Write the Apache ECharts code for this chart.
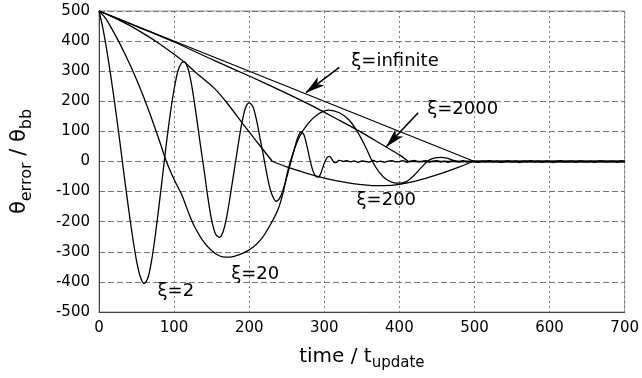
<!DOCTYPE html>
<html>
<head>
<meta charset="utf-8">
<script src="https://cdn.jsdelivr.net/npm/echarts@6/dist/echarts.min.js"></script>
<style>
  html, body { margin: 0; padding: 0; background: #fff; }
  #chart { width: 642px; height: 378px; }
</style>
</head>
<body>
<div id="chart"></div>
<script>
// Pointing error (θerror / θbb) versus time for several ξ settings.

const xiInfinite = [[0, 500], [500, 0], [700, 0]];

const xi2000 = [
  [0, 500], [50, 449], [100, 397], [154, 335], [200, 284], [240, 238],
  [280, 190], [320, 137], [350, 96], [381, 50], [400, 22], [412, 0]
];
const xi2000Tail = [[412, 0], [700, 0]];

const xi200Descent = [
  [0, 500], [20, 478], [40, 453], [60, 424], [80, 392], [100, 356],
  [113, 331], [130, 293], [154, 242], [170, 196], [191, 127], [210, 66], [231, 0]
];
const xi200Settle = [
  [231, 0], [250, -18], [270, -34], [300, -55], [330, -70], [360, -79],
  [380, -80], [400, -76], [420, -66], [440, -52], [460, -36], [480, -18], [498, 0]
];
const xi200Tail = [[498, 0], [700, 0]];

const xi20 = [
  [0, 500], [8, 478], [15, 450], [25, 405], [32, 370], [43, 312], [54, 248],
  [65, 178], [77, 94], [85, 35], [90, -2], [100, -60], [110, -110], [120, -175],
  [127, -215], [138, -262], [149, -294], [160, -313], [169, -318], [180, -315],
  [194, -302], [205, -285], [216, -258], [227, -215], [238, -162], [245, -105],
  [251, -35], [258, 25], [267, 82], [278, 125], [292, 158], [306, 171],
  [320, 162], [333, 138], [345, 95], [355, 48], [364, 0], [373, -35],
  [382, -58], [392, -70], [401, -72], [410, -66], [420, -45], [430, -18],
  [438, 2], [446, 11], [455, 14], [463, 11], [470, 5], [478, 0]
];
const xi20Tail = [[478, 0], [700, 0]];

const xi2 = [
  [0, 500], [5, 445], [10, 375], [15, 295], [20, 210], [25, 118], [30, 22],
  [35, -75], [40, -168], [45, -255], [50, -330], [55, -383], [60, -405],
  [65, -388], [70, -330], [75, -245], [80, -145], [85, -40], [90, 65],
  [95, 160], [100, 240], [105, 300], [110, 328], [113, 331], [116, 325],
  [120, 295], [125, 230], [130, 145], [135, 55], [140, -30], [145, -120],
  [150, -195], [155, -240], [160, -252], [165, -235], [170, -185], [175, -110],
  [180, -30], [185, 50], [190, 125], [195, 178], [200, 195], [205, 182],
  [210, 135], [215, 70], [220, 5], [225, -60], [230, -108], [236, -132],
  [242, -115], [248, -70], [254, -15], [260, 40], [265, 82], [269, 98],
  [273, 88], [277, 50], [281, 5], [285, -32], [289, -50], [292, -52],
  [296, -35], [300, -5], [304, 14], [307, 17], [310, 8], [313, -3],
  [316, -4], [319, 4], [322, 3], [325, 0]
];

// residual jitter once the ξ=2 response has settled
const xi2Residual = [
  [325, 0], [330, 3], [335, -1], [340, 2], [345, -3], [350, 2], [355, 0],
  [360, -2], [365, 4], [370, -1], [375, 1], [380, -3], [385, 1], [390, 3],
  [395, -1], [400, 0], [405, 3], [410, -3], [415, 1], [420, 4], [425, -1],
  [430, 0], [435, 3], [440, -2], [445, 1], [450, 3], [455, -1], [460, 1],
  [465, -3], [470, 2], [475, 0], [480, -1], [485, 3], [490, -1], [495, 1],
  [500, 0], [505, -3], [510, 1], [515, 0], [520, 3], [525, -1], [530, 1],
  [535, -3], [540, 0], [545, 2], [550, -1], [555, 1], [560, -4], [565, 1],
  [570, 0], [575, 3], [580, -1], [585, 1], [590, -3], [595, 1], [600, 0],
  [605, -4], [610, 1], [615, 3], [620, -1], [625, 0], [630, 1], [635, -3],
  [640, 2], [645, 0], [650, -1], [655, 1], [660, -3], [665, 1], [670, 2],
  [675, -1], [680, 0], [685, 1], [690, -3], [695, 2], [700, 0]
];

// curve captions: [x, y, text]
const captions = [
  [336, 334, 'ξ=infinite'],
  [437, 174, 'ξ=2000'],
  [343, -128, 'ξ=200'],
  [176, -374, 'ξ=20'],
  [78, -430, 'ξ=2']
];

// pointer arrows: [fromX, fromY, toX, toY]
const pointers = [
  [320, 313, 275.5, 228.6],
  [425, 162, 382.4, 49]
];

const FONT = 'DejaVu Sans';
const INK = '#000';

function curve(data, smooth) {
  return {
    type: 'line',
    data: data,
    smooth: smooth,
    symbol: 'none',
    silent: true,
    lineStyle: { color: INK, width: 1.3 },
    itemStyle: { color: INK },
    z: 3
  };
}

const chart = echarts.init(document.getElementById('chart'), null, { renderer: 'canvas' });

chart.setOption({
  animation: false,
  backgroundColor: '#fff',
  grid: {
    left: 99, right: 15, top: 11, bottom: 66,
    show: true, borderColor: '#999', borderWidth: 1
  },
  xAxis: {
    type: 'value',
    min: 0, max: 700, interval: 100,
    name: '{m|time / t}{s|update}',
    nameLocation: 'middle',
    nameGap: 31,
    nameTextStyle: {
      rich: {
        m: { fontFamily: FONT, fontSize: 20, color: '#000', lineHeight: 28, verticalAlign: 'middle' },
        s: { fontFamily: FONT, fontSize: 15, color: '#000', lineHeight: 28, verticalAlign: 'bottom' }
      }
    },
    axisLine: { onZero: false, lineStyle: { color: '#444', width: 1 } },
    axisTick: { show: false },
    axisLabel: { fontFamily: FONT, fontSize: 15, color: '#000', margin: 9 },
    splitLine: { show: true, lineStyle: { color: '#777', type: [2, 3], width: 1 } }
  },
  yAxis: {
    type: 'value',
    min: -500, max: 500, interval: 100,
    name: '{m|θ}{s|error}{m| / θ}{s|bb}',
    nameLocation: 'middle',
    nameRotate: 90,
    nameGap: 64,
    nameTextStyle: {
      rich: {
        m: { fontFamily: FONT, fontSize: 21, color: '#000', lineHeight: 30, verticalAlign: 'middle' },
        s: { fontFamily: FONT, fontSize: 16, color: '#000', lineHeight: 30, verticalAlign: 'bottom' }
      }
    },
    axisLine: { show: true, onZero: false, lineStyle: { color: '#444', width: 1 } },
    axisTick: { show: false },
    axisLabel: { fontFamily: FONT, fontSize: 15, color: '#000', margin: 9 },
    splitLine: { show: true, lineStyle: { color: '#777', type: [6, 3], width: 1 } }
  },
  series: [
    Object.assign(curve(xiInfinite, false), {
      markLine: {
        silent: true,
        symbol: ['none', 'arrow'],
        symbolSize: [8, 19],
        label: { show: false },
        itemStyle: { color: INK },
        lineStyle: { color: INK, width: 1.6, type: 'solid' },
        emphasis: { disabled: true },
        data: pointers.map(p => [{ coord: [p[0], p[1]] }, { coord: [p[2], p[3]] }])
      }
    }),
    curve(xi2000, 0.3),
    curve(xi2000Tail, false),
    curve(xi200Descent, 0.3),
    curve(xi200Settle, 0.3),
    curve(xi200Tail, false),
    curve(xi20, 0.3),
    curve(xi20Tail, false),
    curve(xi2, 0.3),
    curve(xi2Residual, false),
    {
      type: 'scatter',
      data: captions,
      symbolSize: 0,
      silent: true,
      z: 5,
      itemStyle: { opacity: 1, color: INK },
      label: {
        show: true,
        position: 'right',
        distance: 0,
        formatter: p => p.value[2],
        fontFamily: FONT,
        fontSize: 18,
        color: '#000',
        opacity: 1
      }
    }
  ]
});
</script>
</body>
</html>
